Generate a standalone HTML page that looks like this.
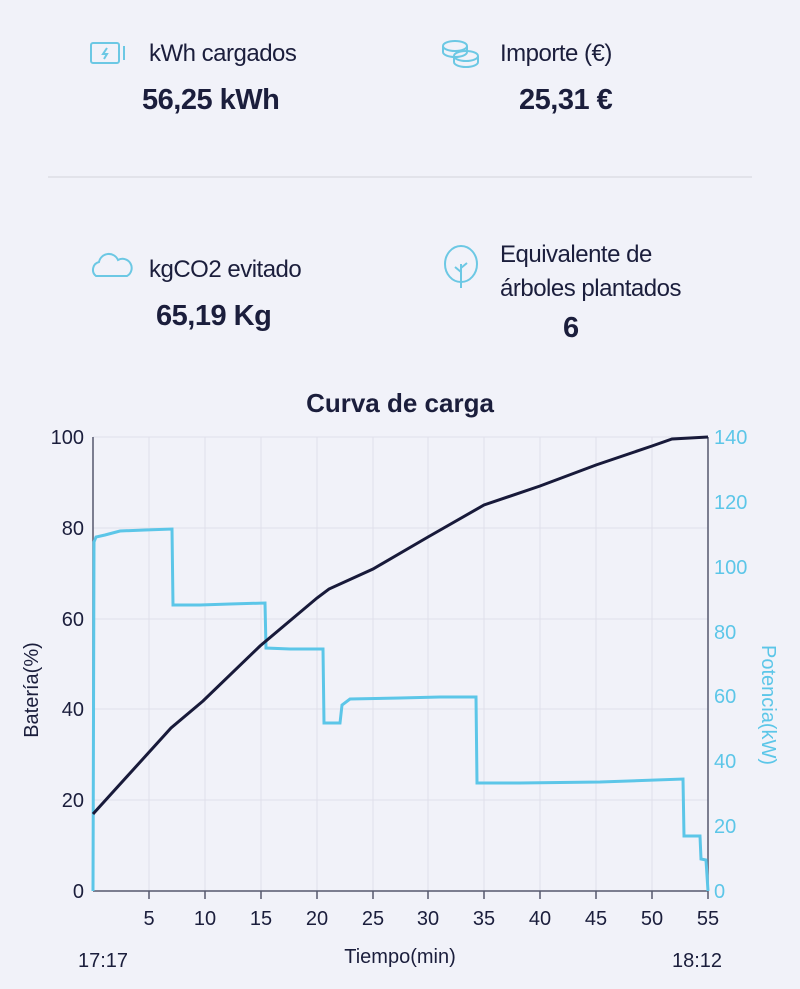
<!DOCTYPE html>
<html><head><meta charset="utf-8"><style>
body{margin:0;width:800px;height:989px;background:#f1f2f9;font-family:"Liberation Sans",sans-serif;color:#1b1e3c;position:relative;overflow:hidden}
.t{position:absolute;font-size:24px;white-space:nowrap;letter-spacing:-0.5px}
.v{position:absolute;font-size:29px;font-weight:bold;white-space:nowrap;letter-spacing:-0.5px}
</style></head><body>
<svg style="position:absolute;left:0;top:0" width="800" height="989">
<g fill="none" stroke="#6cc8e4" stroke-width="2">
<rect x="91" y="43" width="28" height="20" rx="2"/><line x1="124" y1="46" x2="124" y2="60"/><path d="M107 48 l-4 6 h4 l-3 5"/>
<ellipse cx="455" cy="46" rx="12" ry="5"/><path d="M443 46 v6 a12 5 0 0 0 24 0 v-6"/><ellipse cx="466" cy="56" rx="12" ry="5"/><path d="M454 56 v6 a12 5 0 0 0 24 0 v-6"/>
<path d="M96 276 a8 8 0 0 1 3-14 a10 10 0 0 1 19-2 a8 8 0 0 1 9 16 z"/>
<ellipse cx="461" cy="264" rx="16" ry="18"/><path d="M461 264 v24 M461 272 l-6-5 M461 268 l6-5"/>
</g>
<line x1="48" y1="177" x2="752" y2="177" stroke="#e2e3ea" stroke-width="2"/>
<g stroke="#dfe0ea" stroke-width="1">
<line x1="149" y1="437" x2="149" y2="891"/><line x1="205" y1="437" x2="205" y2="891"/><line x1="261" y1="437" x2="261" y2="891"/><line x1="317" y1="437" x2="317" y2="891"/><line x1="373" y1="437" x2="373" y2="891"/><line x1="428" y1="437" x2="428" y2="891"/><line x1="484" y1="437" x2="484" y2="891"/><line x1="540" y1="437" x2="540" y2="891"/><line x1="596" y1="437" x2="596" y2="891"/><line x1="652" y1="437" x2="652" y2="891"/>
<line x1="93" y1="437" x2="708" y2="437"/><line x1="93" y1="528" x2="708" y2="528"/><line x1="93" y1="619" x2="708" y2="619"/><line x1="93" y1="709" x2="708" y2="709"/><line x1="93" y1="800" x2="708" y2="800"/>
</g>
<g stroke="#55586e" stroke-width="1.5"><line x1="93" y1="437" x2="93" y2="891"/><line x1="708" y1="437" x2="708" y2="891"/><line x1="93" y1="891" x2="708" y2="891"/>
<path d="M149 891v8M205 891v8M261 891v8M317 891v8M373 891v8M428 891v8M484 891v8M540 891v8M596 891v8M652 891v8M708 891v8"/></g>
<polyline fill="none" stroke="#5cc6e8" stroke-width="3" points="93,891 94,542 96,537 105,535 120,531 145,530 172,529 173,605 200,605 230,604 265,603 266,648 290,649 323,649 324,723 340,723 342,705 350,699 400,698 440,697 476,697 477,783 520,783 600,782 683,779 684,836 700,836 701,859 706,860 708,891"/>
<polyline fill="none" stroke="#181a3a" stroke-width="3" points="93,814 171,728 203,701 260,646 317,598 329,589 373,569 428,537 484,505 540,486 596,465 652,446 672,439 708,437"/>
<g font-size="20" fill="#1b1e3c" text-anchor="end"><text x="84" y="444">100</text><text x="84" y="535">80</text><text x="84" y="626">60</text><text x="84" y="716">40</text><text x="84" y="807">20</text><text x="84" y="898">0</text></g>
<g font-size="20" fill="#5cc6e8"><text x="714" y="444">140</text><text x="714" y="509">120</text><text x="714" y="574">100</text><text x="714" y="639">80</text><text x="714" y="703">60</text><text x="714" y="768">40</text><text x="714" y="833">20</text><text x="714" y="898">0</text></g>
<g font-size="20" fill="#1b1e3c" text-anchor="middle"><text x="149" y="925">5</text><text x="205" y="925">10</text><text x="261" y="925">15</text><text x="317" y="925">20</text><text x="373" y="925">25</text><text x="428" y="925">30</text><text x="484" y="925">35</text><text x="540" y="925">40</text><text x="596" y="925">45</text><text x="652" y="925">50</text><text x="708" y="925">55</text>
<text x="400" y="963">Tiempo(min)</text><text x="103" y="967">17:17</text><text x="697" y="967">18:12</text>
<text x="400" y="412" font-size="26" font-weight="bold">Curva de carga</text>
<text transform="translate(38,690) rotate(-90)">Batería(%)</text>
<text transform="translate(762,705) rotate(90)" fill="#5cc6e8">Potencia(kW)</text></g>
</svg>
<div class="t" style="left:149px;top:40px">kWh cargados</div>
<div class="v" style="left:142px;top:84px">56,25 kWh</div>
<div class="t" style="left:500px;top:40px">Importe (€)</div>
<div class="v" style="left:519px;top:84px">25,31 €</div>
<div class="t" style="left:149px;top:256px">kgCO2 evitado</div>
<div class="v" style="left:156px;top:300px">65,19 Kg</div>
<div class="t" style="left:500px;top:238px;line-height:34px">Equivalente de<br>árboles plantados</div>
<div class="v" style="left:563px;top:312px">6</div>
</body></html>
